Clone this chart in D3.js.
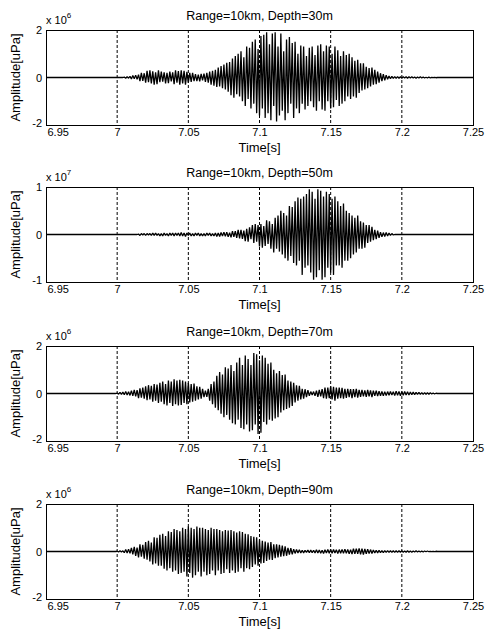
<!DOCTYPE html>
<html>
  <head>
    <meta charset="utf-8">
    <title>Pulse arrivals at 10 km</title>
    <script src="https://d3js.org/d3.v7.min.js"></script>
    <style>
      body { margin: 0; background: #fff; }
      text { font-family: "Liberation Sans", Arial, sans-serif; fill: #000; }
    </style>
  </head>
  <body>
    <svg width="485" height="639"></svg>

    <script>
      // ---- data ----
      const timeTicks = [6.95, 7, 7.05, 7.1, 7.15, 7.2, 7.25];
      const timeLabels = ["6.95", "7", "7.05", "7.1", "7.15", "7.2", "7.25"];
      const gridTimes = [7, 7.05, 7.1, 7.15, 7.2];
      const titles = ["Range=10km, Depth=30m", "Range=10km, Depth=50m",
                      "Range=10km, Depth=70m", "Range=10km, Depth=90m"];
      const exponents = ["6", "7", "6", "6"];
      const yLimits = [2, 1, 2, 2];
      const yTickValues = [[-2, 0, 2], [-1, 0, 1], [-2, 0, 2], [-2, 0, 2]];
      const startTimes = [7.005, 7.015, 7.0, 7.0];
      const dt = 0.001; // sample step of the peak samples below (s)

      // peak samples, in units of 10^exponent uPa
      const depth30 = [
        0.02,-0.03,0.04,-0.03,0.05, -0.06,0.08,-0.05,0.1,-0.08, 0.12,-0.15,0.2,-0.14,0.18,
        -0.22,0.28,-0.2,0.3,-0.25, 0.26,-0.3,0.22,-0.28,0.3, -0.2,0.25,-0.18,0.22,-0.25,
        0.2,-0.24,0.25,-0.16,0.22, -0.28,0.3,-0.22,0.27,-0.3, 0.3,-0.25,0.28,-0.3,0.24,
        -0.22,0.2,-0.18,0.2,-0.15, 0.14,-0.15,0.12,-0.16,0.15, -0.12,0.16,-0.18,0.2,-0.22,
        0.25,-0.3,0.28,-0.35,0.32, -0.4,0.42,-0.38,0.48,-0.45, 0.55,-0.5,0.62,-0.6,0.65,
        -0.75,0.8,-0.85,0.9,-0.7, 1.0,-0.8,1.1,-1.0,0.85, -1.2,1.3,-0.9,1.25,-1.3,
        1.5,-1.1,1.6,-1.5,1.2, -1.6,1.75,-1.3,1.8,-1.7, 1.9,-1.5,1.4,-1.8,1.85,
        -1.2,1.9,-1.85,1.3,-1.6, 1.85,-1.4,1.1,-1.8,1.6, -1.5,1.7,-1.1,1.45,-1.7,
        1.5,-1.3,1.0,-1.5,1.35, -1.1,1.3,-1.35,0.9,-1.2, 1.25,-1.0,1.3,-1.25,0.95,
        -1.4,1.35,-1.0,1.4,-1.35, 1.1,-1.4,1.35,-1.0,1.3, -1.3,1.0,-1.25,1.3,-0.95,
        1.15,-1.2,0.9,-1.1,1.1, -1.0,0.95,-0.8,1.0,-0.9, 0.85,-0.8,0.7,-0.85,0.75,
        -0.65,0.6,-0.55,0.6,-0.5, 0.45,-0.45,0.4,-0.38,0.42, -0.3,0.32,-0.28,0.25,-0.22,
        0.18,-0.15,0.14,-0.12,0.1, -0.07,0.06,-0.05,0.05,-0.04, 0.04,-0.03,0.04,-0.03,0.03,
        -0.03,0.03,-0.02,0.03,-0.03, 0.03,-0.02,0.03,-0.02,0.02, -0.03,0.02,-0.02,0.03,-0.02,
        0.02,-0.02,0.01,-0.02,0.02, -0.02,0.01,-0.01,0.01,-0.01
      ];
      const depth50 = [
        0.01,-0.02,0.02,-0.01,0.02, -0.02,0.02,-0.01,0.02,-0.02, 0.03,-0.02,0.03,-0.02,0.02,
        -0.03,0.02,-0.03,0.03,-0.02, 0.02,-0.03,0.03,-0.02,0.03, -0.03,0.03,-0.02,0.03,-0.03,
        0.04,-0.03,0.03,-0.04,0.03, -0.02,0.03,-0.03,0.02,-0.03, 0.03,-0.02,0.03,-0.03,0.02,
        -0.03,0.02,-0.03,0.03,-0.02, 0.03,-0.03,0.02,-0.03,0.03, -0.04,0.03,-0.04,0.04,-0.03,
        0.05,-0.04,0.05,-0.05,0.04, -0.06,0.07,-0.05,0.07,-0.07, 0.1,-0.08,0.1,-0.09,0.08,
        -0.14,0.12,-0.15,0.15,-0.1, 0.2,-0.18,0.22,-0.15,0.2, -0.25,0.22,-0.28,0.18,-0.24,
        0.3,-0.2,0.28,-0.3,0.22, -0.38,0.35,-0.3,0.4,-0.36, 0.5,-0.42,0.45,-0.5,0.4,
        -0.55,0.6,-0.45,0.58,-0.6, 0.7,-0.65,0.78,-0.55,0.75, -0.85,0.8,-0.7,0.85,-0.65,
        0.95,-0.8,0.9,-0.95,0.75, -0.9,0.95,-0.75,0.92,-0.95, 0.8,-0.9,0.9,-0.7,0.85,
        -0.8,0.75,-0.85,0.8,-0.65, 0.7,-0.65,0.6,-0.7,0.65, -0.55,0.5,-0.55,0.45,-0.5,
        0.4,-0.42,0.35,-0.38,0.4, -0.3,0.28,-0.3,0.25,-0.28, 0.2,-0.18,0.2,-0.15,0.16,
        -0.12,0.1,-0.1,0.08,-0.07, 0.05,-0.05,0.04,-0.04,0.04, -0.03,0.03,-0.02,0.02,-0.01
      ];
      const depth70 = [
        0.02,-0.03,0.05,-0.04,0.06, -0.05,0.08,-0.06,0.07,-0.08, 0.12,-0.1,0.15,-0.12,0.14,
        -0.2,0.22,-0.18,0.25,-0.22, 0.3,-0.28,0.35,-0.25,0.32, -0.35,0.4,-0.3,0.38,-0.4,
        0.45,-0.35,0.5,-0.45,0.4, -0.5,0.55,-0.4,0.5,-0.52, 0.6,-0.45,0.55,-0.5,0.58,
        -0.48,0.55,-0.4,0.5,-0.45, 0.45,-0.38,0.4,-0.35,0.42, -0.3,0.3,-0.25,0.28,-0.22,
        0.2,-0.15,0.12,-0.14,0.2, -0.3,0.4,-0.45,0.5,-0.6, 0.75,-0.7,0.9,-0.85,0.8,
        -1.0,1.1,-0.9,1.05,-1.1, 1.2,-1.25,0.95,-1.3,1.3, -1.1,1.5,-1.45,1.2,-1.5,
        1.6,-1.3,1.45,-1.6,1.2, -1.55,1.7,-1.3,1.65,-1.7, 1.4,-1.65,1.6,-1.2,1.5,
        -1.3,1.25,-1.1,1.3,-1.15, 1.0,-1.05,0.85,-1.0,0.95, -0.8,0.78,-0.7,0.8,-0.65,
        0.55,-0.6,0.5,-0.52,0.45, -0.38,0.35,-0.3,0.32,-0.25, 0.2,-0.22,0.18,-0.15,0.14,
        -0.1,0.08,-0.06,0.08,-0.1, 0.12,-0.14,0.15,-0.12,0.18, -0.2,0.25,-0.22,0.25,-0.2,
        0.3,-0.25,0.28,-0.3,0.25, -0.22,0.25,-0.2,0.24,-0.22, 0.2,-0.18,0.2,-0.15,0.18,
        -0.2,0.18,-0.15,0.2,-0.17, 0.15,-0.14,0.15,-0.12,0.13, -0.14,0.15,-0.12,0.13,-0.15,
        0.12,-0.1,0.12,-0.11,0.1, -0.1,0.09,-0.1,0.08,-0.09, 0.08,-0.07,0.08,-0.06,0.07,
        -0.09,0.1,-0.08,0.09,-0.1, 0.08,-0.07,0.08,-0.06,0.07, -0.06,0.06,-0.05,0.06,-0.05,
        0.05,-0.04,0.05,-0.04,0.04, -0.04,0.04,-0.03,0.03,-0.03, 0.03,-0.02,0.02,-0.02,0.01
      ];
      const depth90 = [
        0.01,-0.02,0.03,-0.02,0.03, -0.05,0.08,-0.06,0.1,-0.08, 0.15,-0.12,0.2,-0.18,0.16,
        -0.25,0.3,-0.22,0.28,-0.3, 0.4,-0.35,0.45,-0.42,0.38, -0.55,0.6,-0.5,0.58,-0.6,
        0.7,-0.6,0.75,-0.72,0.65, -0.8,0.85,-0.7,0.82,-0.85, 0.95,-0.8,0.9,-0.95,0.85,
        -0.9,1.0,-0.85,0.95,-1.05, 1.05,-0.9,1.0,-1.1,0.95, -1.0,1.05,-0.85,1.0,-1.05,
        1.0,-0.85,0.95,-1.0,0.9, -0.95,1.0,-0.8,0.95,-1.0, 0.95,-0.8,0.9,-0.95,0.85,
        -0.9,0.9,-0.75,0.88,-0.9, 0.9,-0.8,0.85,-0.9,0.8, -0.85,0.85,-0.7,0.82,-0.85,
        0.75,-0.7,0.72,-0.75,0.65, -0.65,0.62,-0.55,0.6,-0.6, 0.5,-0.5,0.45,-0.48,0.42,
        -0.4,0.38,-0.35,0.4,-0.36, 0.3,-0.28,0.3,-0.25,0.28, -0.22,0.25,-0.2,0.22,-0.18,
        0.15,-0.13,0.14,-0.12,0.1, -0.08,0.08,-0.06,0.07,-0.06, 0.05,-0.06,0.05,-0.04,0.06,
        -0.05,0.06,-0.05,0.05,-0.06, 0.07,-0.06,0.06,-0.07,0.05, -0.08,0.07,-0.06,0.08,-0.07,
        0.08,-0.07,0.08,-0.06,0.07, -0.09,0.08,-0.07,0.09,-0.08, 0.1,-0.08,0.09,-0.1,0.08,
        -0.11,0.12,-0.1,0.12,-0.1, 0.13,-0.12,0.12,-0.13,0.11, -0.1,0.1,-0.09,0.08,-0.08,
        0.06,-0.06,0.05,-0.06,0.05, -0.05,0.04,-0.05,0.04,-0.04, 0.04,-0.04,0.03,-0.04,0.03,
        -0.04,0.03,-0.04,0.03,-0.03, 0.03,-0.03,0.02,-0.03,0.03, -0.03,0.02,-0.03,0.02,-0.02,
        0.03,-0.02,0.02,-0.02,0.02, -0.02,0.02,-0.01,0.02,-0.01, 0.01,-0.01,0.01,-0.01,0.01
      ];
      const signals = [depth30, depth50, depth70, depth90];

      // ---- layout ----
      const svg = d3.select("svg");
      const left = 46, right = 473;
      const panelTops = [30, 187, 346, 504];
      const panelH = 95;

      const x = d3.scaleLinear().domain([6.95, 7.25]).range([left, right]);

      signals.forEach((sig, p) => {
        const top = panelTops[p], bottom = top + panelH;
        const y = d3.scaleLinear().domain([-yLimits[p], yLimits[p]]).range([bottom, top]);
        const g = svg.append("g");

        // dotted grid at the inner time ticks
        g.selectAll("line.grid").data(gridTimes).enter().append("line")
          .attr("x1", d => x(d)).attr("x2", d => x(d))
          .attr("y1", top).attr("y2", bottom)
          .attr("stroke", "#000").attr("stroke-width", 1)
          .attr("stroke-dasharray", "3,2");

        // waveform, zero outside the arrival
        const t0 = startTimes[p];
        const pts = [[6.95, 0], [t0 - dt, 0]]
          .concat(sig.map((v, i) => [t0 + i * dt, v]))
          .concat([[t0 + sig.length * dt, 0], [7.25, 0]]);
        g.append("path")
          .datum(pts)
          .attr("fill", "none")
          .attr("stroke", "#000")
          .attr("stroke-width", 1.3)
          .attr("stroke-linejoin", "bevel")
          .attr("d", d3.line().x(d => x(d[0])).y(d => y(d[1])));

        // box
        g.append("rect")
          .attr("x", left + 0.5).attr("y", top + 0.5)
          .attr("width", right - left).attr("height", panelH)
          .attr("fill", "none").attr("stroke", "#000");

        // axes
        const xa = g.append("g").attr("transform", `translate(0,${bottom})`)
          .call(d3.axisBottom(x).tickValues(timeTicks).tickSize(0).tickPadding(3)
            .tickFormat((d, i) => timeLabels[i]));
        const ya = g.append("g").attr("transform", `translate(${left},0)`)
          .call(d3.axisLeft(y).tickValues(yTickValues[p]).tickSize(0).tickPadding(4)
            .tickFormat(d => String(d).replace("-", "-")));
        [xa, ya].forEach(a => {
          a.select(".domain").remove();
          a.selectAll("text").style("font-size", "11px")
            .style("font-family", '"Liberation Sans", Arial, sans-serif');
        });
        // first time label sits to the right of its tick, clear of the "-2"
        xa.selectAll("text").filter((d, i) => i === 0)
          .attr("text-anchor", "start").attr("x", 1);
        ya.selectAll("text").filter(d => d < 0).attr("dy", "0.1em");

        // title
        g.append("text").attr("x", (left + right) / 2).attr("y", top - 10)
          .attr("text-anchor", "middle").style("font-size", "12.5px")
          .text(titles[p]);

        // exponent
        const ex = g.append("text").attr("x", left).attr("y", top - 6)
          .style("font-size", "11px").text("x 10");
        ex.append("tspan").attr("dy", -6).style("font-size", "8px").text(exponents[p]);

        // axis labels
        g.append("text").attr("x", (left + right) / 2).attr("y", bottom + 27)
          .attr("text-anchor", "middle").style("font-size", "13px")
          .text("Time[s]");
        g.append("text")
          .attr("transform", `translate(20,${(top + bottom) / 2}) rotate(-90)`)
          .attr("text-anchor", "middle").style("font-size", "13px")
          .text("Amplitude[uPa]");
      });
    </script>
  </body>
</html>
